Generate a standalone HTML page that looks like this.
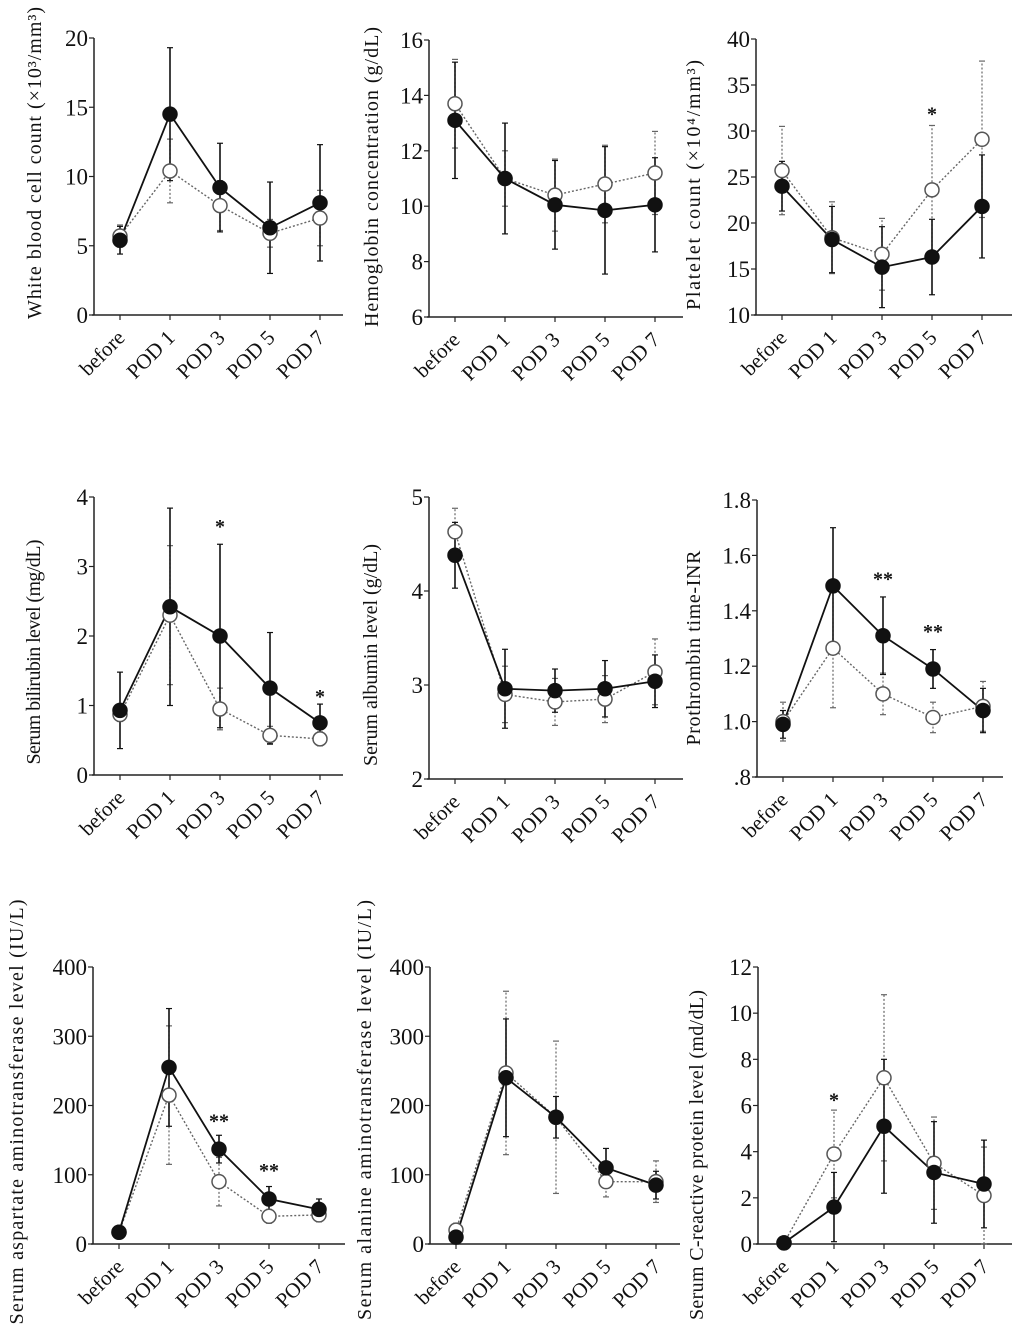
<!DOCTYPE html>
<html><head><meta charset="utf-8"><style>
html,body{margin:0;padding:0;background:#fff}
svg{display:block}
text{font-family:"Liberation Serif",serif;fill:#111}
</style></head><body>
<svg id="fig" width="1024" height="1335" viewBox="0 0 1024 1335" xmlns="http://www.w3.org/2000/svg"></svg>
<script>
const categories = ["before","POD 1","POD 3","POD 5","POD 7"];
// panel 1 WBC
const wbcFilled=[5.4,14.5,9.2,6.3,8.1], wbcFilledSd=[1.0,4.8,3.2,3.3,4.2];
const wbcOpen=[5.7,10.4,7.9,5.9,7.0], wbcOpenSd=[0.8,2.3,1.8,1.0,2.0];
const wbcTicks=[0,5,10,15,20];
// panel 2 Hb
const hbFilled=[13.1,11.0,10.05,9.85,10.05], hbFilledSd=[2.1,2.0,1.6,2.3,1.7];
const hbOpen=[13.7,11.0,10.4,10.8,11.2], hbOpenSd=[1.6,1.0,1.3,1.4,1.5];
const hbTicks=[6,8,10,12,14,16];
// panel 3 platelet
const pltFilled=[24.0,18.2,15.2,16.3,21.8], pltFilledSd=[2.7,3.6,4.4,4.1,5.6];
const pltOpen=[25.7,18.4,16.6,23.6,29.1], pltOpenSd=[4.8,3.9,3.9,7.0,8.5];
const pltTicks=[10,15,20,25,30,35,40];
// panel 4 bilirubin
const bilFilled=[0.93,2.42,2.0,1.25,0.75], bilFilledSd=[0.55,1.42,1.32,0.8,0.27];
const bilOpen=[0.87,2.3,0.95,0.57,0.52], bilOpenSd=[0.1,1.0,0.3,0.13,0.1];
const bilTicks=[0,1,2,3,4];
// panel 5 albumin
const albFilled=[4.38,2.96,2.94,2.96,3.04], albFilledSd=[0.35,0.42,0.23,0.3,0.28];
const albOpen=[4.63,2.9,2.82,2.85,3.14], albOpenSd=[0.25,0.3,0.25,0.25,0.35];
const albTicks=[2,3,4,5];
// panel 6 INR
const inrFilled=[0.99,1.49,1.31,1.19,1.04], inrFilledSd=[0.05,0.21,0.14,0.07,0.08];
const inrOpen=[1.0,1.265,1.1,1.015,1.055], inrOpenSd=[0.07,0.215,0.075,0.055,0.09];
const inrTicks=[0.8,1.0,1.2,1.4,1.6,1.8];
const inrTickLabels=[".8","1.0","1.2","1.4","1.6","1.8"];
// panel 7 AST
const astFilled=[17,255,137,65,50], astFilledSd=[5,85,20,18,15];
const astOpen=[17,215,90,40,42], astOpenSd=[5,100,35,10,10];
const astTicks=[0,100,200,300,400];
// panel 8 ALT
const altFilled=[10,240,183,110,85], altFilledSd=[10,85,30,28,20];
const altOpen=[20,247,183,90,90], altOpenSd=[10,118,110,22,30];
const altTicks=[0,100,200,300,400];
// panel 9 CRP
const crpFilled=[0.05,1.6,5.1,3.1,2.6], crpFilledSd=[0.1,1.5,2.9,2.2,1.9];
const crpOpen=[0.05,3.9,7.2,3.5,2.1], crpOpenSd=[0.1,1.9,3.6,2.0,2.1];
const crpTicks=[0,2,4,6,8,10,12];

const NS="http://www.w3.org/2000/svg";
const svg=document.getElementById('fig');
function mk(tag,attrs,parent){const e=document.createElementNS(NS,tag);for(const k in attrs)e.setAttribute(k,attrs[k]);(parent||svg).appendChild(e);return e;}

const panels=[
 {id:"wbc",ax:94,top:38,bot:315,axEnd:343,min:0,max:20,ticks:wbcTicks,f:wbcFilled,fs:wbcFilledSd,o:wbcOpen,os:wbcOpenSd,title:"White blood cell count (×10³/mm³)",tx:41,ty:163,tl:312,stars:[]},
 {id:"hb",ax:429,top:40,bot:317,axEnd:683,min:6,max:16,ticks:hbTicks,f:hbFilled,fs:hbFilledSd,o:hbOpen,os:hbOpenSd,title:"Hemoglobin  concentration  (g/dL)",tx:378,ty:177,tl:300,stars:[]},
 {id:"plt",ax:756,top:39,bot:315,axEnd:1012,min:10,max:40,ticks:pltTicks,f:pltFilled,fs:pltFilledSd,o:pltOpen,os:pltOpenSd,title:"Platelet  count  (×10⁴/mm³)",tx:700,ty:185,tl:250,stars:[[3,32,"*"]]},
 {id:"bil",ax:94,top:497,bot:775,axEnd:343,min:0,max:4,ticks:bilTicks,f:bilFilled,fs:bilFilledSd,o:bilOpen,os:bilOpenSd,title:"Serum bilirubin  level  (mg/dL)",tx:40,ty:652,tl:225,stars:[[2,3.6,"*"],[4,1.15,"*"]]},
 {id:"alb",ax:429,top:497,bot:779,axEnd:683,min:2,max:5,ticks:albTicks,f:albFilled,fs:albFilledSd,o:albOpen,os:albOpenSd,title:"Serum  albumin  level  (g/dL)",tx:377,ty:655,tl:222,stars:[]},
 {id:"inr",ax:757,top:500,bot:777,axEnd:1003,min:0.8,max:1.8,ticks:inrTicks,labels:inrTickLabels,f:inrFilled,fs:inrFilledSd,o:inrOpen,os:inrOpenSd,title:"Prothrombin  time-INR",tx:700,ty:648,tl:195,stars:[[2,1.52,"**"],[3,1.33,"**"]]},
 {id:"ast",ax:93,top:967,bot:1244,axEnd:345,min:0,max:400,ticks:astTicks,f:astFilled,fs:astFilledSd,o:astOpen,os:astOpenSd,title:"Serum  aspartate  aminotransferase  level  (IU/L)",tx:23,ty:1112,tl:425,stars:[[2,180,"**"],[3,108,"**"]]},
 {id:"alt",ax:430,top:967,bot:1244,axEnd:680,min:0,max:400,ticks:altTicks,f:altFilled,fs:altFilledSd,o:altOpen,os:altOpenSd,title:"Serum  alanine  aminotransferase  level  (IU/L)",tx:371,ty:1110,tl:420,stars:[]},
 {id:"crp",ax:758,top:967,bot:1244,axEnd:1012,min:0,max:12,ticks:crpTicks,f:crpFilled,fs:crpFilledSd,o:crpOpen,os:crpOpenSd,title:"Serum  C-reactive  protein  level  (md/dL)",tx:703,ty:1155,tl:330,stars:[[1,6.3,"*"]]}
];

panels.forEach(p=>{
 const g=mk('g',{});
 
 
 const y=v=>p.bot-(v-p.min)/(p.max-p.min)*(p.bot-p.top);
 const x=i=>p.ax+26+i*50;
 const ya=mk('line',{x1:p.ax,y1:p.top,x2:p.ax,y2:p.bot,stroke:'#222','stroke-width':1.5},g);
 
 
 const xa=mk('line',{x1:p.ax-2,y1:p.bot,x2:p.axEnd,y2:p.bot,stroke:'#222','stroke-width':1.5},g);
 
 
 p.ticks.forEach((t,k)=>{
  mk('line',{x1:p.ax-5,y1:y(t),x2:p.ax,y2:y(t),stroke:'#222','stroke-width':1.2},g);
  const tl=mk('text',{x:p.ax-6,y:y(t)+8,'text-anchor':'end','font-size':23},g);
  tl.textContent=p.labels?p.labels[k]:String(t);
  
  
 });
 categories.forEach((c,i)=>{
  mk('line',{x1:x(i),y1:p.bot,x2:x(i),y2:p.bot+5,stroke:'#222','stroke-width':1.2},g);
  const t=mk('text',{x:x(i)+6,y:p.bot+24,'text-anchor':'end','font-size':21,transform:`rotate(-45 ${x(i)+6} ${p.bot+24})`},g);
  t.textContent=c;
  
  
 });
 const tt=mk('text',{x:p.tx,y:p.ty,'text-anchor':'middle','font-size':20,textLength:p.tl,lengthAdjust:'spacing',transform:`rotate(-90 ${p.tx} ${p.ty})`},g);
 tt.textContent=p.title;
 
 
 [[p.o,p.os,'open'],[p.f,p.fs,'filled']].forEach(([vals,sds,kind])=>{
  const open=kind==='open';
  const col=open?'#666':'#111';
  const dash=open?'2,2':'none';
  vals.forEach((v,i)=>{
   const eb=mk('g',{},g);
   
   
   mk('line',{x1:x(i),y1:y(v-sds[i]),x2:x(i),y2:y(v+sds[i]),stroke:col,'stroke-width':open?1.2:1.6,'stroke-dasharray':dash},eb);
   [v-sds[i],v+sds[i]].forEach(e=>mk('line',{x1:x(i)-3,y1:y(e),x2:x(i)+3,y2:y(e),stroke:col,'stroke-width':1.2},eb));
  });
  const pl=mk('polyline',{points:vals.map((v,i)=>x(i)+','+y(v)).join(' '),fill:'none',stroke:col,'stroke-width':open?1.4:1.8,'stroke-dasharray':dash},g);
  
  
 });
 [[p.o,'open'],[p.f,'filled']].forEach(([vals,kind])=>{
  vals.forEach((v,i)=>{
   const c=mk('circle',{cx:x(i),cy:y(v),r:7,fill:kind==='open'?'#fff':'#111',stroke:kind==='open'?'#555':'#111','stroke-width':1.5},g);
   
   
  });
 });
 p.stars.forEach(([i,v,s])=>{
  const st=mk('text',{x:x(i),y:y(v)+8,'text-anchor':'middle','font-size':20,'font-weight':'bold'},g);
  st.textContent=s;
  
  
 });
});
</script>
</body></html>
